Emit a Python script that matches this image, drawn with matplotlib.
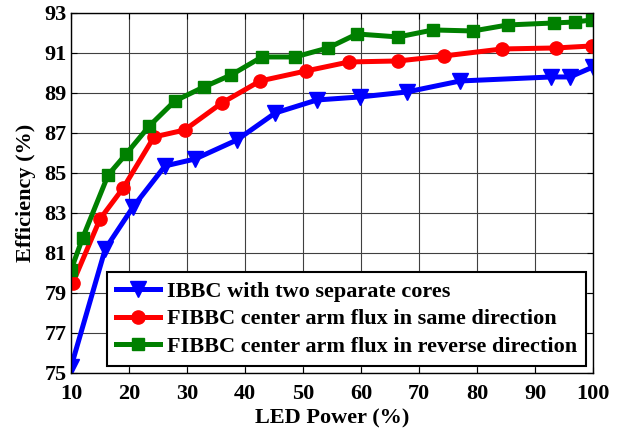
import matplotlib
matplotlib.use("Agg")
import matplotlib.pyplot as plt

# LED power (%) and measured efficiency (%) for each converter
ibbc_power = [10, 15.9, 20.7, 26.2, 31.4, 38.6, 45.2, 52.4, 59.8, 67.9, 77.1, 92.8, 96.0, 100]
ibbc_eff = [75.3, 81.2, 83.3, 85.35, 85.7, 86.65, 88.0, 88.65, 88.8, 89.05, 89.6, 89.8, 89.8, 90.3]

same_power = [10.3, 15.0, 19.0, 24.3, 29.6, 36.0, 42.6, 50.5, 57.9, 66.4, 74.3, 84.3, 93.6, 99.8]
same_eff = [79.5, 82.7, 84.25, 86.8, 87.15, 88.5, 89.6, 90.1, 90.55, 90.6, 90.85, 91.2, 91.25, 91.35]

rev_power = [10, 12, 16.4, 19.5, 23.5, 27.9, 32.9, 37.6, 42.9, 48.6, 54.3, 59.3, 66.4, 72.4, 79.3, 85.3, 93.3, 96.9, 99.8]
rev_eff = [80.15, 81.75, 84.9, 85.95, 87.35, 88.6, 89.3, 89.9, 90.8, 90.8, 91.25, 91.95, 91.8, 92.15, 92.1, 92.4, 92.5, 92.55, 92.65]

labels = ["IBBC with two separate cores",
          "FIBBC center arm flux in same direction",
          "FIBBC center arm flux in reverse direction"]

x_ticks = [10, 20, 30, 40, 50, 60, 70, 80, 90, 100]
y_ticks = [75, 77, 79, 81, 83, 85, 87, 89, 91, 93]

plt.rcParams["font.family"] = ["Liberation Serif", "DejaVu Serif"]
plt.rcParams["font.weight"] = "bold"

fig = plt.figure(figsize=(6.23, 4.32), dpi=100)
ax = fig.add_axes([0.114, 0.1366, 0.838, 0.8334])

ax.plot(ibbc_power, ibbc_eff, color="#0000ff", lw=3.6, marker="v", ms=11, label=labels[0])
ax.plot(same_power, same_eff, color="#ff0000", lw=3.6, marker="o", ms=9.5, label=labels[1])
ax.plot(rev_power, rev_eff, color="#008000", lw=3.6, marker="s", ms=8.5, label=labels[2])

ax.set_xlim(10, 100)
ax.set_ylim(75, 93)
ax.set_xticks(x_ticks)
ax.set_yticks(y_ticks)
ax.tick_params(direction="in", top=True, right=True, labelsize=16, length=4)
ax.tick_params(axis="x", pad=8)
ax.tick_params(axis="y", pad=3)
for lbl in ax.get_xticklabels() + ax.get_yticklabels():
    lbl.set_fontweight("bold")
ax.grid(True, color="#404040", lw=0.8)
for sp in ax.spines.values():
    sp.set_linewidth(1.0)

ax.set_xlabel("LED Power (%)", fontsize=16, fontweight="bold", labelpad=3)
ax.set_ylabel("Efficiency (%)", fontsize=16, fontweight="bold", labelpad=6)

leg = ax.legend(loc="lower right", fontsize=16, frameon=True, fancybox=False,
                edgecolor="black", framealpha=1, borderaxespad=0.32,
                handlelength=2.0, borderpad=0.4, labelspacing=0.32, handletextpad=0.3)
leg.get_frame().set_linewidth(1.5)
for t in leg.get_texts():
    t.set_fontweight("bold")

fig.savefig("out.png", dpi=100)
